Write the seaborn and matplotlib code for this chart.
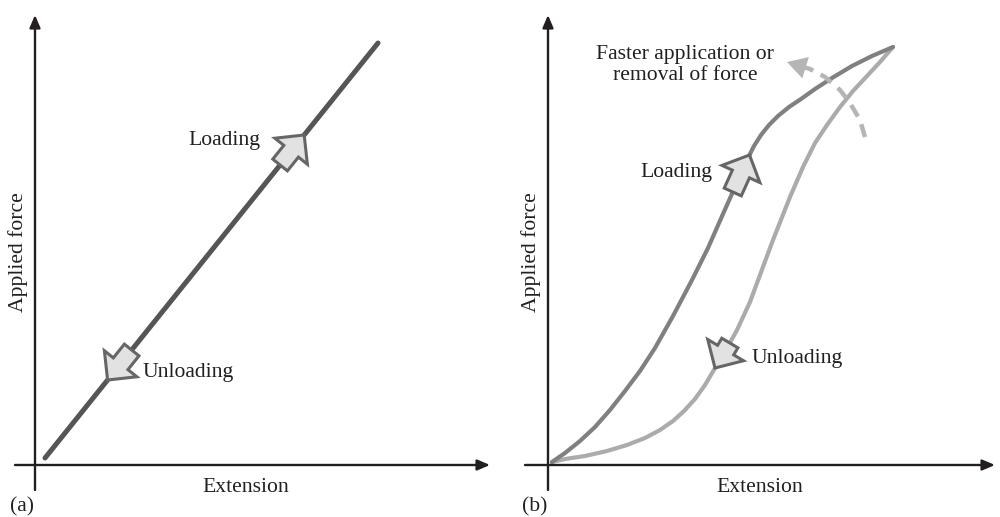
import numpy as np
import matplotlib
matplotlib.use("Agg")
import matplotlib.pyplot as plt
from matplotlib.patches import FancyArrowPatch, ArrowStyle
import seaborn as sns

# ---- data (extension / applied force, arbitrary units) ----
linear_ext = [10, 343]
linear_force = [7, 422]

load_ext = [4, 17, 32, 47, 62, 77, 92, 107, 125, 144, 160, 175, 187, 193, 200, 206,
            213, 221, 230, 241, 253, 267, 284, 304, 324, 345]
load_force = [3, 12, 24, 38, 55, 74, 94, 117, 149, 185, 217, 251, 278, 292, 307, 319,
              330, 340, 349, 358, 366, 376, 387, 399, 409, 418]

unload_ext = [345, 332, 319, 305, 292, 279, 267, 255, 242, 225, 212, 202, 189, 178,
              167, 157, 147, 136, 125, 112, 97, 79, 59, 37, 17, 4]
unload_force = [418, 403, 389, 374, 358, 340, 322, 298, 268, 225, 190, 163, 135, 115,
                97, 80, 66, 54, 44, 35, 27, 20, 14, 9, 6, 3]

faster_ext = [317, 312, 302, 292, 277, 262, 252]
faster_force = [328, 345, 362, 375, 388, 396, 399]
faster_tip = [239, 403]

# arrow positions along the curves (force values: tail, tip)
left_load_arrow = [300, 330]
left_unload_arrow = [115, 85]
right_load_arrow = [273, 310]
right_unload_arrow = [122, 97]

xlabel = "Extension"
ylabel = "Applied force"

sns.set_style("white")
plt.rcParams['font.family'] = ['Liberation Serif', 'DejaVu Serif']
TXT = "#231f20"
FS = 15.6

fig = plt.figure(figsize=(10, 5.17), dpi=100)
ax1 = fig.add_axes([0, 0, 0.5, 1])
ax2 = fig.add_axes([0.5, 0, 0.5, 1])

ax1.set_xlim(-35, 465)
ax2.set_xlim(-48, 452)
for ax in (ax1, ax2):
    ax.set_ylim(-52, 465)
    ax.axis("off")


def axis_arrows(ax, xstart, xend):
    kw = dict(arrowstyle="-|>,head_length=0.75,head_width=0.32",
              color=TXT, lw=1.7, shrinkA=0, shrinkB=0)
    ax.annotate("", xy=(xend, 0), xytext=(xstart, 0), arrowprops=kw)
    ax.annotate("", xy=(0, 450), xytext=(0, -25), arrowprops=kw)


def block_arrow(ax, ext, force, fpair):
    order = np.argsort(force)
    fx = np.array(force, float)[order]
    ex = np.array(ext, float)[order]
    tail = (np.interp(fpair[0], fx, ex), fpair[0])
    tip = (np.interp(fpair[1], fx, ex), fpair[1])
    style = ArrowStyle.Simple(head_length=15, head_width=30, tail_width=13.5)
    p = FancyArrowPatch(tail, tip, arrowstyle=style, mutation_scale=1,
                        facecolor="#e2e2e2", edgecolor="#666666", lw=2.2,
                        shrinkA=0, shrinkB=0, zorder=5, joinstyle="miter")
    ax.add_patch(p)


# ---- panel (a) ----
axis_arrows(ax1, -20, 455)
sns.lineplot(x=linear_ext, y=linear_force, ax=ax1, color="#555555", lw=3.6,
             sort=False, estimator=None)
block_arrow(ax1, linear_ext, linear_force, left_load_arrow)
block_arrow(ax1, linear_ext, linear_force, left_unload_arrow)
ax1.text(225, 325, "Loading", ha="right", va="center", fontsize=FS, color=TXT)
ax1.text(108, 93, "Unloading", ha="left", va="center", fontsize=FS, color=TXT)
ax1.text(211, -23, xlabel, ha="center", va="center", fontsize=FS, color=TXT)
ax1.text(-17, 213, ylabel, ha="center", va="center", rotation=90, fontsize=FS, color=TXT)
ax1.text(-25, -42, "(a)", ha="left", va="center", fontsize=FS, color=TXT)

# ---- panel (b) ----
axis_arrows(ax2, -23, 447)
sns.lineplot(x=unload_ext, y=unload_force, ax=ax2, color="#ababab", lw=3,
             sort=False, estimator=None)
sns.lineplot(x=load_ext, y=load_force, ax=ax2, color="#808080", lw=3,
             sort=False, estimator=None)
sns.lineplot(x=faster_ext, y=faster_force, ax=ax2, color="#b5b5b5", lw=3.2,
             sort=False, estimator=None, linestyle=(0, (3.0, 1.9)))
ax2.annotate("", xy=tuple(faster_tip), xytext=(faster_ext[-1], faster_force[-1]),
             arrowprops=dict(arrowstyle="-|>,head_length=0.7,head_width=0.4",
                             mutation_scale=20, color="#b5b5b5", lw=0,
                             shrinkA=0, shrinkB=0))
block_arrow(ax2, load_ext, load_force, right_load_arrow)
block_arrow(ax2, unload_ext, unload_force, right_unload_arrow)
ax2.text(137, 400, "Faster application or\nremoval of force", ha="center", va="center",
         fontsize=FS, color=TXT, linespacing=1.15)
ax2.text(164, 292, "Loading", ha="right", va="center", fontsize=FS, color=TXT)
ax2.text(204, 107, "Unloading", ha="left", va="center", fontsize=FS, color=TXT)
ax2.text(212, -23, xlabel, ha="center", va="center", fontsize=FS, color=TXT)
ax2.text(-17, 213, ylabel, ha="center", va="center", rotation=90, fontsize=FS, color=TXT)
ax2.text(-26, -42, "(b)", ha="left", va="center", fontsize=FS, color=TXT)

fig.savefig("out.png", dpi=100, facecolor="white")
